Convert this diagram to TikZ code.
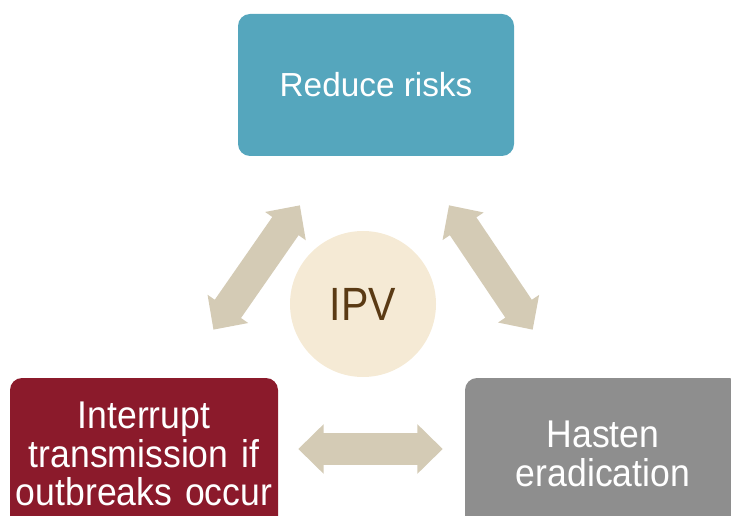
\documentclass[tikz,border=0pt]{standalone}
\usepackage{fontspec}
\setmainfont{Liberation Sans}
\usepackage{tikz}
\usetikzlibrary{arrows.meta, calc}
\definecolor{riskteal}{HTML}{55A6BD}
\definecolor{outbreakred}{HTML}{8B1A2B}
\definecolor{hastengray}{HTML}{8E8E8E}
\definecolor{arrowtan}{HTML}{D4CBB5}
\definecolor{ipvcream}{HTML}{F5EAD5}
\definecolor{ipvbrown}{HTML}{5A3A14}
\newfontfamily\narrowsans[FakeStretch=0.92]{Liberation Sans}
\newfontfamily\ipvsans[FakeStretch=0.88]{Liberation Sans}
\tikzstyle{goal_box} = [rectangle, rounded corners=9pt, inner sep=0pt, align=center, text=white]
\tikzstyle{ipv_circle} = [circle, fill=ipvcream, minimum size=109.5pt, inner sep=0pt, text=ipvbrown]
\tikzstyle{big_arrow} = [line width=24pt, draw=arrowtan, {Triangle[length=19pt, width=36pt]}-{Triangle[length=19pt, width=36pt]}]

\begin{document}
\begin{tikzpicture}[x=0.75pt, y=-0.75pt]
\useasboundingbox (0,0) rectangle (731,516);
\clip (0,0) rectangle (731,516);

\node[goal_box, fill=riskteal, minimum width=207pt, minimum height=106.5pt, font=\fontsize{25}{28}\selectfont] (reduce) at (376,85) {Reduce risks};
\node[goal_box, fill=outbreakred, text width=201pt, minimum height=114pt, font=\narrowsans\fontsize{29}{29}\selectfont] (interrupt) at (144,454) {Interrupt\\transmission if\\outbreaks occur};
\node[goal_box, fill=hastengray, text width=207pt, minimum height=114pt, font=\narrowsans\fontsize{29}{29}\selectfont] (hasten) at (603,454) {Hasten\\eradication};
\node[ipv_circle, font=\ipvsans\fontsize{35}{36}\selectfont] (ipv) at (363,304) {IPV};

% double arrows between the goals
\draw[big_arrow, shorten <=44.8pt, shorten >=43.9pt] ($(reduce.south)+(-42,0)$) -- ($(interrupt.north)+(36,0)$);
\draw[big_arrow, shorten <=44.3pt, shorten >=43.4pt] ($(reduce.south)+(40,0)$) -- ($(hasten.north)+(-38,0)$);
\draw[big_arrow, shorten <=15pt, shorten >=16.5pt] ($(interrupt.east)+(0,-5)$) -- ($(hasten.west)+(0,-5)$);

\end{tikzpicture}
\end{document}
